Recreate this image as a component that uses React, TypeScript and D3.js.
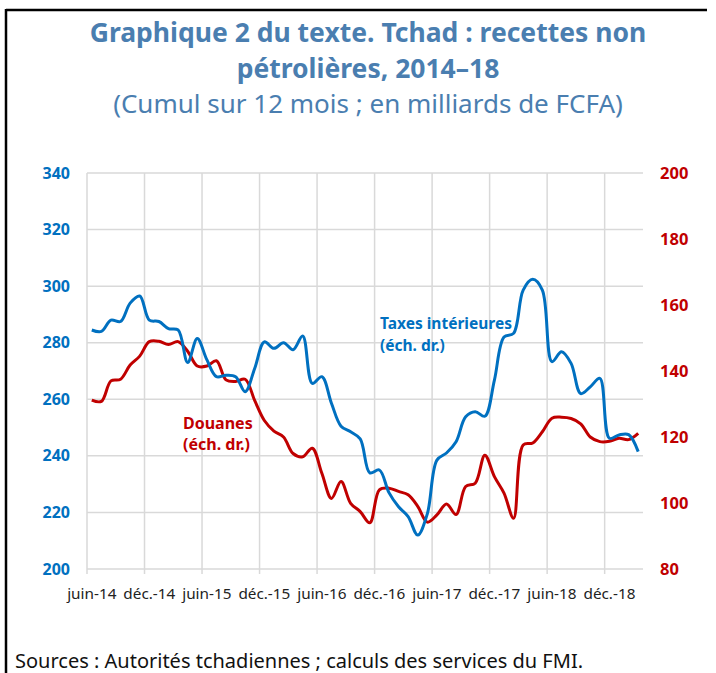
import * as d3 from "d3";

// French month labels, juin-14 .. mars-19
const monthNames = ["janv.", "févr.", "mars", "avr.", "mai", "juin", "juil.", "août", "sept.", "oct.", "nov.", "déc."];
const months: string[] = [];
for (let i = 0; i < 58; i++) {
  const m = (5 + i) % 12;
  const y = 14 + Math.floor((5 + i) / 12);
  months.push(`${monthNames[m]}-${y}`);
}

// Taxes intérieures (left scale)
const taxes = [
  284.5, 284, 288, 287.5, 294, 296.5, 288, 287.5, 285, 284.5,
  273, 281.5, 274, 268, 268.5, 268, 262.7, 271, 280.3, 278,
  280, 277.5, 282.4, 265.6, 268, 258.6, 250.5, 248.5, 246, 234,
  235, 227, 222, 218.5, 212, 219.5, 238.5, 241, 245, 253.8,
  255.6, 254, 266.8, 282, 283.3, 298.6, 302.4, 298.6, 273.3, 276.8,
  272.7, 262, 264.4, 267.4, 246.2, 247.4, 247.5, 241.5,
];

// Douanes (right scale)
const douanes = [
  131.2, 130.8, 137, 137.5, 141.8, 144.5, 148.9, 149, 148, 148.9,
  146, 141.5, 141.5, 143.1, 137.3, 136.8, 137.5, 131, 125, 121.8,
  120, 115, 114, 116.6, 109, 101.4, 106.5, 99.9, 97.4, 94,
  104, 104.5, 103.5, 102.5, 99, 94.2, 96.4, 99.7, 96.5, 105,
  106, 114.5, 108, 103, 95.4, 117.6, 118.2, 121.6, 125.7, 126,
  125.6, 124, 120, 118.6, 118.7, 119.6, 119.2, 121.1,
];

const leftTicks = [200, 220, 240, 260, 280, 300, 320, 340];
const rightTicks = [80, 100, 120, 140, 160, 180, 200];

const BLUE = "#0070C0";
const RED = "#C00000";
const TITLE = "#4A7EB0";
const FONT = "'Noto Sans', 'Open Sans', sans-serif";

export default function App() {
  const W = 716, H = 673;
  const left = 87, right = 643, top = 173, bottom = 569;

  const x = d3.scaleBand<number>().domain(d3.range(months.length)).range([left, right]).padding(0);
  const cx = (i: number) => (x(i) as number) + x.bandwidth() / 2;
  const yL = d3.scaleLinear().domain([200, 340]).range([bottom, top]);
  const yR = d3.scaleLinear().domain([80, 200]).range([bottom, top]);

  const lineL = d3.line<number>().x((_, i) => cx(i)).y(d => yL(d)).curve(d3.curveCatmullRom.alpha(0.5));
  const lineR = d3.line<number>().x((_, i) => cx(i)).y(d => yR(d)).curve(d3.curveCatmullRom.alpha(0.5));

  const tickIdx = months.map((_, i) => i).filter(i => i % 6 === 0);

  return (
    <svg width={W} height={H} style={{ position: "absolute", left: 0, top: 0 }} fontFamily={FONT}>
      <rect width={W} height={H} fill="#fff" />
      {/* frame */}
      <line x1={6} x2={707} y1={10} y2={10} stroke="#000" strokeWidth={2.5} />
      <line x1={6} x2={6} y1={9} y2={H} stroke="#000" strokeWidth={2.5} />

      {/* titles */}
      <text x={368} y={42} textAnchor="middle" fill={TITLE} fontSize={26.5} fontWeight={700}>
        Graphique 2 du texte. Tchad : recettes non
      </text>
      <text x={368} y={78} textAnchor="middle" fill={TITLE} fontSize={26.5} fontWeight={700}>
        pétrolières, 2014–18
      </text>
      <text x={368} y={113} textAnchor="middle" fill={TITLE} fontSize={26}>
        (Cumul sur 12 mois ; en milliards de FCFA)
      </text>

      {/* horizontal grid */}
      {leftTicks.map(t => (
        <line key={t} x1={left} x2={right} y1={yL(t)} y2={yL(t)} stroke="#d9d9d9" strokeWidth={1.5} />
      ))}
      {/* vertical grid + ticks */}
      {tickIdx.map(i => (
        <line key={i} x1={x(i)} x2={x(i)} y1={top} y2={bottom + 5} stroke="#d9d9d9" strokeWidth={1.5} />
      ))}

      {/* left axis labels */}
      {leftTicks.map(t => (
        <text key={t} x={70} y={yL(t)} dy="0.35em" textAnchor="end" fill={BLUE} fontSize={16} fontWeight={700}>
          {t}
        </text>
      ))}
      {/* right axis labels */}
      {rightTicks.map(t => (
        <text key={t} x={660} y={yR(t)} dy="0.35em" textAnchor="start" fill={RED} fontSize={16.5} fontWeight={700}>
          {t}
        </text>
      ))}
      {/* x labels */}
      {tickIdx.map(i => (
        <text key={i} x={cx(i)} y={599} textAnchor="middle" fill="#222" fontSize={15.3}>
          {months[i]}
        </text>
      ))}

      {/* series */}
      <path d={lineR(douanes) as string} fill="none" stroke={RED} strokeWidth={3} strokeLinejoin="round" />
      <path d={lineL(taxes) as string} fill="none" stroke={BLUE} strokeWidth={3} strokeLinejoin="round" />

      {/* annotations */}
      <text x={380} y={329} fill={BLUE} fontSize={15.5} fontWeight={700}>Taxes intérieures</text>
      <text x={380} y={351} fill={BLUE} fontSize={15.5} fontWeight={700}>(éch. dr.)</text>
      <text x={183} y={429} fill={RED} fontSize={16} fontWeight={700}>Douanes</text>
      <text x={183} y={450} fill={RED} fontSize={16} fontWeight={700}>(éch. dr.)</text>

      {/* source */}
      <text x={15} y={668} fill="#111" fontSize={20}>
        Sources : Autorités tchadiennes ; calculs des services du FMI.
      </text>
    </svg>
  );
}
